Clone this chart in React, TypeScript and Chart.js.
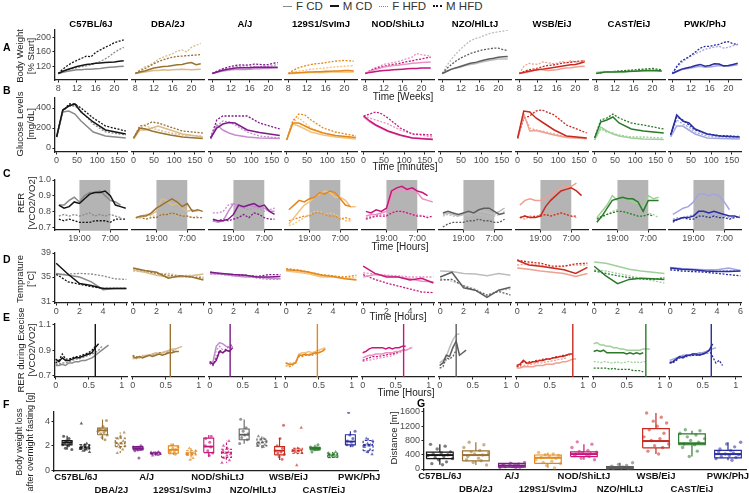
import React, { useEffect, useRef } from 'react';
import { Chart, registerables } from 'chart.js';

Chart.register(...registerables);

const FONT = '"Liberation Sans", Arial, Helvetica, sans-serif';
const AXIS = '#1f1f1f';
const TICK_TXT = '#4d4d4d';

const STRAINS = ['C57BL/6J', 'DBA/2J', 'A/J', '129S1/SvImJ', 'NOD/ShiLtJ', 'NZO/HlLtJ', 'WSB/EiJ', 'CAST/EiJ', 'PWK/PhJ'];
const MALE_COLORS = ['#151515', '#9a7232', '#7d1c87', '#e3891c', '#c8177a', '#5e5e5e', '#c92a1f', '#2a7a2a', '#2a2e9e'];
const FEMALE_COLORS = ['#8a8a8a', '#d8bc8c', '#c48dce', '#f3c27e', '#ec92c3', '#bdbdbd', '#eea091', '#9fd09a', '#a2a6de'];

// ---------- A: body weight (% start) ----------
const weightWeeks = [8, 9, 10, 11, 12, 13, 14, 15, 16, 17, 18, 19, 20, 21, 22];
const weightFCD = [
  [100, 103, 106, 108, 110, 110, 112, 112, 113, 114, 116, 117, 118, 119, 120],
  [100, 102, 104, 106, 108, 108, 110, 109, 110, 111, 112, 111, 110, 111, 112],
  [100, 103, 106, 108, 110, 111, 112, 111, 112, 113, 113, 114, 114, 115, 115],
  [100, 100, 101, 102, 102, 103, 103, 103, 103, 104, 104, 104, 104, 104, 104],
  [100, 106, 110, 114, 118, 120, 122, 123, 125, 126, 128, 129, 130, 131, 132],
  [100, 106, 112, 115, 118, 122, 125, 127, 130, 133, 136, 138, 140, 140, 140],
  [100, 102, 104, 108, 112, 110, 108, 109, 110, 113, 115, 116, 118, 119, 120],
  [102, 104, 105, 105, 105, 104, 104, 105, 106, 106, 106, 107, 107, 106, 106],
  [100, 105, 110, 113, 115, 118, 120, 117, 118, 120, 122, 121, 120, 122, 124],
];
const weightMCD = [
  [100, 106, 111, 115, 119, 122, 125, 126, 128, 129, 130, 131, 132, 134, 135],
  [100, 104, 107, 111, 115, 117, 119, 120, 122, 124, 125, 128, 130, 124, 127],
  [100, 104, 108, 111, 113, 115, 116, 116, 116, 117, 117, 117, 117, 117, 117],
  [100, 101, 102, 103, 104, 104, 105, 105, 106, 106, 107, 107, 108, 108, 107],
  [100, 103, 105, 107, 108, 109, 110, 111, 112, 113, 114, 114, 115, 115, 115],
  [100, 106, 112, 116, 120, 124, 128, 130, 134, 137, 140, 142, 145, 146, 147],
  [100, 103, 106, 108, 110, 112, 114, 116, 118, 120, 122, 124, 125, 128, 132],
  [100, 102, 104, 104, 104, 105, 105, 106, 106, 107, 108, 108, 108, 108, 107],
  [100, 106, 112, 115, 118, 122, 125, 120, 122, 127, 126, 121, 122, 125, 128],
];
const weightFHFD = [
  [100, 105, 110, 113, 116, 119, 121, 124, 128, 133, 140, 148, 158, 166, 172],
  [100, 110, 118, 122, 130, 140, 145, 150, 155, 162, 165, 160, 172, 178, 183],
  [100, 106, 110, 113, 116, 118, 120, 121, 120, 118, 118, 120, 120, 122, 125],
  [100, 103, 106, 108, 110, 112, 113, 114, 115, 117, 118, 119, 120, 121, 122],
  [100, 108, 115, 120, 125, 128, 130, 133, 137, 141, 145, 155, 152, 150, 148],
  [100, 122, 140, 155, 168, 180, 190, 196, 200, 205, 210, 213, 215, 217, 220],
  [100, 120, 128, 126, 125, 132, 130, 127, 128, 133, 130, 135, 132, 130, 137],
  [103, 105, 106, 105, 105, 106, 106, 107, 108, 108, 109, 111, 110, 109, 108],
  [100, 118, 130, 140, 148, 155, 160, 167, 170, 173, 175, 170, 172, 177, 180],
];
const weightMHFD = [
  [100, 112, 122, 130, 136, 142, 148, 146, 158, 165, 172, 178, 185, 189, 193],
  [100, 107, 113, 120, 127, 133, 138, 142, 145, 147, 148, 149, 150, 151, 152],
  [100, 106, 112, 116, 120, 122, 124, 123, 124, 126, 125, 124, 125, 128, 130],
  [100, 108, 115, 119, 122, 125, 127, 128, 130, 132, 134, 135, 136, 135, 134],
  [100, 107, 113, 117, 120, 123, 125, 127, 130, 133, 135, 138, 140, 143, 145],
  [100, 114, 125, 135, 143, 149, 155, 159, 163, 166, 168, 170, 170, 166, 163],
  [100, 105, 110, 112, 115, 119, 122, 123, 125, 128, 130, 131, 133, 134, 135],
  [100, 102, 104, 105, 106, 107, 108, 109, 110, 111, 112, 113, 114, 112, 110],
  [100, 120, 135, 142, 150, 160, 170, 175, 175, 178, 180, 186, 188, 182, 180],
];

// ---------- B: glucose tolerance ----------
const gttMinutes = [0, 15, 30, 45, 60, 90, 120, 170];
const glucoseFCD = [
  [110, 360, 370, 340, 270, 160, 120, 100],
  [90, 180, 180, 200, 220, 180, 140, 110],
  [90, 230, 180, 150, 130, 110, 100, 95],
  [80, 240, 220, 190, 160, 130, 110, 90],
  [310, 260, 225, 195, 165, 125, 100, 90],
  [],
  [90, 340, 170, 175, 160, 130, 105, 95],
  [80, 210, 170, 140, 120, 100, 90, 85],
  [110, 220, 220, 180, 140, 100, 95, 90],
];
const glucoseMCD = [
  [110, 380, 420, 440, 360, 260, 180, 140],
  [100, 200, 190, 170, 155, 130, 110, 95],
  [100, 200, 240, 255, 250, 180, 155, 125],
  [80, 250, 250, 220, 190, 150, 125, 105],
  [320, 270, 230, 200, 170, 130, 100, 85],
  [],
  [100, 370, 360, 300, 260, 180, 120, 100],
  [100, 260, 280, 310, 250, 190, 170, 150],
  [130, 330, 270, 250, 190, 140, 120, 110],
];
const glucoseFHFD = [
  [110, 380, 420, 420, 370, 240, 160, 130],
  [90, 200, 220, 200, 180, 150, 130, 120],
  [90, 220, 270, 260, 230, 160, 120, 100],
  [80, 260, 300, 250, 200, 150, 120, 100],
  [320, 300, 280, 260, 240, 180, 140, 110],
  [],
  [90, 330, 200, 180, 170, 140, 110, 90],
  [80, 190, 160, 150, 130, 110, 110, 100],
  [120, 280, 240, 210, 160, 120, 110, 100],
];
const glucoseMHFD = [
  [120, 360, 440, 440, 400, 300, 220, 170],
  [100, 220, 230, 260, 250, 210, 170, 150],
  [100, 280, 320, 320, 320, 320, 250, 190],
  [80, 270, 340, 330, 280, 200, 160, 120],
  [320, 340, 360, 340, 300, 200, 140, 130],
  [],
  [100, 300, 320, 370, 380, 330, 230, 150],
  [100, 280, 300, 340, 300, 250, 230, 190],
  [130, 310, 280, 230, 180, 140, 125, 115],
];

// ---------- C: RER over the day (hours from 19:00) ----------
const rerHours = [-8, -6, -4, -2, 0, 2, 4, 6, 8, 10, 12, 14, 16, 18];
const NIGHT = [0, 12];
const rerFCD = [
  [0.84, 0.84, 0.87, 0.89, 0.86, 0.90, 0.92, 0.92, 0.93, 0.90, 0.87, 0.86, 0.84],
  [0.76, 0.76, 0.78, 0.78, 0.80, 0.88, 0.87, 0.84, 0.85, 0.82, 0.80, 0.81, 0.80],
  [0.74, 0.73, 0.74, 0.80, 0.85, 0.84, 0.82, 0.84, 0.83, 0.83, 0.82, 0.80, 0.80],
  [0.72, 0.76, 0.80, 0.84, 0.86, 0.89, 0.91, 0.93, 0.92, 0.89, 0.89, 0.87, 0.83, 0.83],
  [0.77, 0.78, 0.78, 0.79, 0.80, 0.90, 0.93, 0.93, 0.93, 0.93, 0.92, 0.88, 0.87, 0.86],
  [0.78, 0.79, 0.78, 0.77, 0.78, 0.79, 0.79, 0.80, 0.80, 0.79, 0.78, 0.80, 0.82],
  [0.84, 0.87, 0.88, 0.87, 0.87, 0.89, 0.90, 0.93, 0.95, 0.96, 0.96, 0.98],
  [0.76, 0.80, 0.84, 0.90, 0.87, 0.89, 0.88, 0.86, 0.85, 0.82, 0.90, 0.88, 0.89],
  [0.78, 0.80, 0.82, 0.83, 0.86, 0.91, 0.91, 0.90, 0.91, 0.90, 0.86, 0.81],
];
const rerMCD = [
  [0.84, 0.82, 0.83, 0.86, 0.85, 0.88, 0.91, 0.92, 0.92, 0.93, 0.90, 0.84, 0.83, 0.82],
  [0.76, 0.77, 0.77, 0.79, 0.82, 0.84, 0.86, 0.88, 0.86, 0.83, 0.85, 0.80, 0.81, 0.80],
  [0.75, 0.74, 0.74, 0.75, 0.78, 0.84, 0.83, 0.84, 0.85, 0.83, 0.84, 0.80, 0.78],
  [0.81, 0.84, 0.87, 0.86, 0.88, 0.89, 0.92, 0.91, 0.93, 0.92, 0.88, 0.84, 0.83],
  [0.80, 0.79, 0.81, 0.80, 0.82, 0.93, 0.95, 0.96, 0.94, 0.95, 0.93, 0.92, 0.90],
  [0.79, 0.80, 0.79, 0.78, 0.79, 0.80, 0.79, 0.81, 0.82, 0.82, 0.80, 0.78, 0.79],
  [0.76, 0.77, 0.76, 0.76, 0.77, 0.83, 0.87, 0.90, 0.93, 0.94, 0.95, 0.93, 0.90],
  [0.73, 0.77, 0.82, 0.87, 0.88, 0.89, 0.88, 0.88, 0.86, 0.80, 0.87, 0.87, 0.87],
  [0.74, 0.75, 0.76, 0.76, 0.77, 0.80, 0.80, 0.79, 0.80, 0.79, 0.78, 0.77, 0.77, 0.76],
];
const rerFHFD = [
  [0.77, 0.78, 0.77, 0.78, 0.77, 0.78, 0.79, 0.77, 0.78, 0.77, 0.78, 0.77, 0.76],
  [0.76, 0.77, 0.78, 0.77, 0.77, 0.78, 0.79, 0.79, 0.77, 0.78, 0.77, 0.76, 0.77],
  [0.79, 0.79, 0.80, 0.84, 0.85, 0.83, 0.82, 0.81, 0.82, 0.82, 0.80, 0.81, 0.82],
  [0.71, 0.72, 0.74, 0.76, 0.78, 0.80, 0.80, 0.78, 0.79, 0.78, 0.76, 0.74, 0.74],
  [0.76, 0.77, 0.77, 0.78, 0.78, 0.79, 0.81, 0.80, 0.79, 0.78, 0.78, 0.77, 0.77],
  [0.77, 0.78, 0.77, 0.77, 0.78, 0.77, 0.78, 0.78, 0.77, 0.76, 0.77, 0.78, 0.80],
  [0.76, 0.75, 0.77, 0.76, 0.78, 0.78, 0.79, 0.78, 0.80, 0.79, 0.77, 0.76],
  [0.76, 0.76, 0.78, 0.80, 0.81, 0.80, 0.79, 0.78, 0.77, 0.78, 0.79, 0.78, 0.76],
  [0.75, 0.76, 0.76, 0.77, 0.78, 0.79, 0.79, 0.78, 0.78, 0.77, 0.77, 0.76, 0.76],
];
const rerMHFD = [
  [0.75, 0.74, 0.75, 0.74, 0.73, 0.73, 0.73, 0.74, 0.74, 0.74, 0.73, 0.75, 0.75, 0.75],
  [0.76, 0.76, 0.75, 0.76, 0.76, 0.78, 0.78, 0.79, 0.78, 0.77, 0.77, 0.76, 0.76, 0.76],
  [0.74, 0.74, 0.75, 0.74, 0.75, 0.76, 0.78, 0.76, 0.79, 0.78, 0.76, 0.75, 0.75],
  [0.74, 0.75, 0.76, 0.77, 0.77, 0.79, 0.79, 0.78, 0.77, 0.77, 0.75, 0.76, 0.75],
  [0.75, 0.76, 0.77, 0.77, 0.77, 0.79, 0.80, 0.80, 0.79, 0.78, 0.77, 0.77, 0.76, 0.77],
  [0.70, 0.72, 0.73, 0.73, 0.73, 0.74, 0.74, 0.75, 0.74, 0.74, 0.73, 0.73, 0.75],
  [0.76, 0.77, 0.76, 0.77, 0.77, 0.78, 0.77, 0.78, 0.79, 0.78, 0.77, 0.77],
  [0.75, 0.77, 0.78, 0.79, 0.80, 0.80, 0.79, 0.78, 0.77, 0.77, 0.78, 0.77],
  [0.73, 0.75, 0.76, 0.75, 0.75, 0.77, 0.77, 0.76, 0.77, 0.76, 0.76, 0.75, 0.76, 0.77],
];

// ---------- D: temperature during fasting ----------
const tempHours = [0, 1, 2, 3, 4, 5, 6];
const tempFCD = [
  [35.6, 35.3, 35.0, 34.2, 32.9, 33.1, 33.1],
  [36.2, 35.8, 35.3, 35.0, 35.0, 35.2, 35.5],
  [35.6, 35.5, 35.2, 35.0, 35.0, 34.8, 34.7],
  [36.0, 35.8, 35.5, 35.0, 35.0, 34.8, 34.6],
  [35.0, 35.4, 35.2, 35.0, 34.7, 34.3, 34.2],
  [36.0, 35.9, 35.6, 35.5, 35.2, 35.6, 35.3],
  [36.5, 36.3, 36.0, 35.8, 35.6, 35.1, 35.6],
  [37.5, 37.3, 36.8, 36.3, 36.0, 35.8, 35.6],
  [36.6, 36.4, 36.3, 36.2, 36.2, 36.5, 36.1],
];
const tempMCD = [
  [37.3, 35.5, 33.9, 33.6, 33.1, 33.1, 33.1],
  [36.5, 36.1, 35.8, 34.8, 35.2, 35.0, 34.5],
  [35.8, 35.6, 35.4, 35.3, 35.0, 35.0, 35.1],
  [36.2, 36.1, 35.8, 35.3, 35.1, 34.7, 34.5],
  [36.8, 35.6, 35.0, 35.0, 34.5, 34.8, 34.0],
  [35.0, 35.8, 33.2, 32.8, 31.6, 32.8, 33.3],
  [37.8, 37.0, 36.8, 36.5, 36.2, 35.6, 36.6],
  [36.8, 35.2, 33.9, 34.6, 34.8, 34.7, 34.6],
  [36.5, 36.3, 36.2, 36.0, 35.9, 35.9, 36.0],
];
const tempFHFD = [
  [35.3, 35.5, 35.6, 35.5, 35.2, 34.7, 34.6],
  [36.0, 35.8, 35.5, 35.6, 35.2, 35.3, 35.0],
  [35.5, 35.4, 35.2, 35.2, 34.8, 34.6, 34.6],
  [36.3, 36.0, 35.6, 35.3, 35.1, 34.9, 35.0],
  [35.7, 35.5, 35.3, 35.2, 35.0, 35.0, 35.0],
  [34.8, 34.3, 33.6, 33.0, 31.8, 32.8, 33.0],
  [37.0, 37.2, 37.0, 36.6, 36.8, 37.0, 37.0],
  [36.2, 36.0, 35.6, 35.2, 34.8, 34.4, 34.0],
  [36.4, 36.2, 36.2, 36.0, 36.0, 36.1, 36.0],
];
const tempMHFD = [
  [35.5, 34.2, 33.8, 33.4, 33.1, 33.1, 33.1],
  [36.4, 36.0, 35.6, 35.3, 35.1, 35.0, 34.8],
  [35.8, 35.5, 35.4, 35.3, 35.1, 35.4, 35.4],
  [36.4, 36.2, 35.8, 35.4, 35.2, 35.0, 35.3],
  [35.4, 34.6, 34.0, 33.5, 33.0, 32.5, 32.4],
  [34.5, 34.6, 33.5, 32.8, 32.0, 32.6, 32.0],
  [37.8, 37.5, 37.3, 36.8, 36.8, 37.2, 37.3],
  [36.0, 35.6, 35.2, 34.9, 34.7, 34.6, 34.9],
  [36.2, 36.0, 35.9, 35.8, 35.6, 35.4, 35.2],
];

// ---------- E: RER during exercise ----------
const exTimes = [0, 0.05, 0.1, 0.15, 0.2, 0.25, 0.3, 0.35, 0.4, 0.45, 0.5, 0.55, 0.6, 0.65, 0.7, 0.75, 0.8, 0.85, 0.9];
const exerciseEnd = [0.6, 0.57, 0.31, 0.48, 0.62, 0.25, 0.85, 0.79, 0.63];
const exFCD = [
  [0.78, 0.78, 0.79, 0.78, 0.80, 0.80, 0.81, 0.81, 0.82, 0.82, 0.83, 0.84, 0.86, 0.88, 0.90, 0.92, 0.94],
  [0.83, 0.84, 0.84, 0.85, 0.86, 0.86, 0.87, 0.88, 0.87, 0.88, 0.89, 0.90, 0.91, 0.91, 0.92, 0.93],
  [0.80, 0.81, 0.93, 0.96, 0.95, 0.93, 0.92, 0.93],
  [0.78, 0.78, 0.79, 0.80, 0.87, 0.88, 0.88, 0.89, 0.88, 0.89, 0.90, 0.91, 0.92],
  [0.84, 0.85, 0.86, 0.86, 0.87, 0.87, 0.87, 0.88, 0.88, 0.88, 0.89, 0.89, 0.90, 0.90, 0.91, 0.92],
  [0.80, 0.82, 0.85, 0.92, 0.98, 1.02, 1.03],
  [0.76, 0.76, 0.77, 0.77, 0.77, 0.77, 0.78, 0.78, 0.78, 0.79, 0.79, 0.79, 0.80, 0.80, 0.81, 0.81, 0.82, 0.83, 0.83],
  [0.95, 0.96, 0.94, 0.94, 0.93, 0.93, 0.92, 0.92, 0.91, 0.91, 0.90, 0.90, 0.90, 0.90, 0.90, 0.91, 0.91, 0.91],
  [0.82, 0.83, 0.84, 0.85, 0.86, 0.86, 0.86, 0.87, 0.87, 0.88, 0.88, 0.89, 0.90, 0.91, 0.92],
];
const exMCD = [
  [0.83, 0.81, 0.84, 0.82, 0.82, 0.83, 0.84, 0.84, 0.85, 0.86, 0.87, 0.88, 0.92, 0.95],
  [0.85, 0.84, 0.85, 0.84, 0.85, 0.86, 0.85, 0.86, 0.87, 0.86, 0.87, 0.88, 0.88, 0.89, 0.89],
  [0.81, 0.79, 0.82, 0.89, 0.88, 0.90, 0.89, 0.92],
  [0.80, 0.79, 0.79, 0.80, 0.86, 0.86, 0.87, 0.86, 0.87, 0.88, 0.88, 0.89, 0.91],
  [0.88, 0.89, 0.91, 0.92, 0.92, 0.92, 0.92, 0.91, 0.92, 0.91, 0.92, 0.92, 0.93, 0.93],
  [0.78, 0.80, 0.86, 0.85, 0.92, 0.97, 0.86, 0.88, 0.90],
  [0.78, 0.79, 0.82, 0.80, 0.80, 0.81, 0.81, 0.82, 0.82, 0.83, 0.83, 0.84, 0.84, 0.85, 0.85, 0.86, 0.87, 0.87],
  [0.89, 0.90, 0.89, 0.90, 0.88, 0.88, 0.88, 0.88, 0.88, 0.88, 0.87, 0.88, 0.87, 0.88, 0.87, 0.88],
  [0.80, 0.81, 0.83, 0.85, 0.84, 0.86, 0.86, 0.87, 0.87, 0.86, 0.87, 0.88, 0.90, 0.95],
];
const exFHFD = [
  [0.79, 0.79, 0.80, 0.80, 0.81, 0.82, 0.83, 0.83, 0.84, 0.85, 0.86, 0.87, 0.88, 0.90, 0.93],
  [0.84, 0.83, 0.85, 0.86, 0.85, 0.86, 0.86, 0.87, 0.88, 0.88, 0.87, 0.89, 0.90, 0.91, 0.92],
  [0.81, 0.80, 0.90, 0.93, 0.90, 0.89, 0.90],
  [0.80, 0.80, 0.80, 0.81, 0.86, 0.87, 0.86, 0.87, 0.88, 0.88, 0.88, 0.89, 0.90],
  [0.81, 0.82, 0.82, 0.83, 0.83, 0.84, 0.84, 0.85, 0.85, 0.86, 0.87, 0.88, 0.89, 0.90, 0.91, 0.93],
  [0.78, 0.80, 0.82, 0.83],
  [0.77, 0.77, 0.78, 0.78, 0.79, 0.79, 0.80, 0.80, 0.80, 0.81, 0.81, 0.82, 0.82, 0.83, 0.83, 0.84],
  [0.81, 0.81, 0.80, 0.81, 0.81, 0.80, 0.80, 0.81, 0.80, 0.80, 0.81, 0.81, 0.80, 0.81, 0.80, 0.81, 0.81],
  [0.81, 0.82, 0.83, 0.84, 0.84, 0.85, 0.85, 0.86, 0.86, 0.86, 0.87, 0.87, 0.88, 0.89],
];
const exMHFD = [
  [0.80, 0.82, 0.87, 0.83, 0.83, 0.84, 0.85, 0.85, 0.86, 0.87, 0.88, 0.90, 0.93],
  [0.86, 0.85, 0.84, 0.85, 0.85, 0.86, 0.87, 0.87, 0.88, 0.88, 0.89, 0.88, 0.89, 0.90],
  [0.80, 0.78, 0.84, 0.90, 0.88, 0.91, 0.93, 0.95],
  [0.78, 0.77, 0.78, 0.80, 0.85, 0.85, 0.86, 0.86, 0.86, 0.87, 0.88, 0.89],
  [0.82, 0.83, 0.84, 0.85, 0.85, 0.85, 0.86, 0.86, 0.87, 0.87, 0.88, 0.89, 0.90, 0.91],
  [0.76, 0.77, 0.84, 0.83, 0.85, 0.90],
  [0.77, 0.78, 0.81, 0.80, 0.81, 0.81, 0.82, 0.82, 0.83, 0.83, 0.83, 0.84, 0.85, 0.85, 0.86, 0.86, 0.86],
  [0.76, 0.76, 0.76, 0.76, 0.76, 0.75, 0.76, 0.75, 0.75, 0.75, 0.75, 0.75, 0.74, 0.74, 0.74, 0.73],
  [0.80, 0.80, 0.82, 0.84, 0.85, 0.85, 0.86, 0.86, 0.86, 0.87, 0.87, 0.88, 0.90, 0.85, 0.80, 0.82, 0.78],
];

// ---------- F: body weight loss after fasting [g] ----------
// stats: [q1, median, q3, whiskerLow, whiskerHigh]
const fastLossFemaleStats = [
  [2.08, 2.28, 2.44, 1.67, 2.83], [2.92, 3.28, 3.47, 2.5, 4.17], [1.67, 1.8, 1.94, 1.53, 2.0],
  [1.39, 1.67, 2.0, 1.25, 2.2], [1.44, 1.94, 2.64, 1.1, 2.9], [2.5, 2.92, 3.39, 2.17, 4.17],
  [1.25, 1.6, 1.94, 0.83, 2.64], [1.67, 1.8, 1.89, 1.55, 2.1], [2.08, 2.36, 2.92, 1.89, 3.2],
];
const fastLossMaleStats = [
  [1.75, 1.89, 2.08, 1.5, 2.2], [1.94, 2.22, 2.64, 1.4, 3.1], [1.3, 1.39, 1.47, 1.2, 1.53],
  [1.25, 1.39, 1.6, 0.83, 1.8], [1.05, 1.44, 1.72, 0.6, 2.44], [2.0, 2.28, 2.56, 1.8, 2.78],
  [1.39, 1.6, 1.8, 1.3, 1.85], [1.05, 1.25, 1.39, 1.0, 1.5], [1.6, 2.08, 2.44, 1.25, 2.64],
];
const fastLossFemalePoints = [
  [2.8, 2.6, 2.4, 2.35, 2.3, 2.25, 2.2, 2.1, 2.0, 1.8, 1.7],
  [4.1, 3.6, 3.4, 3.3, 3.2, 3.1, 3.0, 2.9, 2.7, 2.5],
  [2.0, 1.9, 1.85, 1.8, 1.78, 1.75, 1.7, 1.6, 1.0],
  [2.1, 1.9, 1.8, 1.7, 1.6, 1.5, 1.4, 1.3],
  [2.8, 2.6, 2.3, 2.0, 1.9, 1.6, 1.4, 1.2],
  [4.2, 3.5, 3.2, 3.0, 2.9, 2.7, 2.5, 2.2],
  [3.7, 2.6, 2.0, 1.8, 1.6, 1.5, 1.4, 1.3, 1.1, 0.9],
  [2.1, 1.9, 1.85, 1.8, 1.8, 1.75, 1.7, 1.5],
  [4.75, 3.2, 2.9, 2.6, 2.4, 2.3, 2.1, 2.0],
];
const fastLossMalePoints = [
  [3.85, 2.2, 2.0, 1.95, 1.9, 1.85, 1.8, 1.75, 1.7, 1.6, 1.5],
  [3.1, 2.8, 2.6, 2.4, 2.3, 2.2, 2.1, 2.0, 1.9, 1.7, 1.4],
  [1.5, 1.45, 1.4, 1.38, 1.35, 1.3, 1.25, 1.2],
  [1.8, 1.6, 1.5, 1.4, 1.35, 1.3, 1.25, 1.0, 0.85],
  [2.4, 2.0, 1.8, 1.6, 1.5, 1.4, 1.3, 1.2, 1.0, 0.8, 0.6],
  [2.8, 2.6, 2.5, 2.4, 2.3, 2.2, 2.1, 2.0, 1.9],
  [3.5, 1.8, 1.7, 1.65, 1.6, 1.55, 1.5, 1.4, 0.4],
  [1.5, 1.4, 1.3, 1.25, 1.2, 1.15, 1.1, 1.05],
  [2.6, 2.4, 2.2, 2.1, 2.05, 2.0, 1.9, 1.7, 1.5, 1.3],
];

// ---------- G: running distance [m] ----------
const distanceStats = [
  [290, 390, 470, 120, 690], [226, 390, 505, 113, 750], [52, 96, 157, 26, 183],
  [157, 313, 392, 26, 461], [348, 418, 479, 261, 696], [9, 35, 70, 0, 174],
  [592, 783, 1131, 418, 1570], [679, 720, 983, 348, 1070], [313, 418, 522, 244, 748],
];
const distancePoints = [
  [690, 640, 560, 480, 450, 420, 400, 380, 350, 320, 290, 260, 200, 150, 120],
  [750, 680, 600, 520, 480, 450, 420, 390, 350, 300, 260, 230, 180, 113],
  [183, 160, 140, 120, 110, 100, 95, 90, 80, 70, 60, 50, 40, 26],
  [461, 420, 400, 380, 350, 320, 300, 260, 220, 180, 150, 100, 26],
  [760, 696, 600, 520, 490, 470, 450, 430, 420, 400, 380, 350, 300, 261],
  [174, 130, 100, 80, 60, 50, 40, 35, 30, 20, 10, 5, 0],
  [1570, 1450, 1340, 1290, 1200, 1100, 1000, 900, 850, 800, 700, 650, 600, 500, 418],
  [1100, 1070, 1000, 950, 900, 850, 800, 750, 700, 680, 600, 500, 348],
  [748, 700, 620, 560, 520, 480, 450, 420, 400, 380, 350, 320, 290, 244],
];
const JITTER = [-0.7, 0.4, -0.2, 0.8, 0.1, -0.5, 0.6, -0.9, 0.3, -0.35, 0.95, -0.1, 0.5, -0.6, 0.2];

// ---------- layout ----------
const AREA_W = 72;
const colLeft = (i: number) => Math.round(55 + 76.8 * i);

const fmtInt = (v: number) => String(v);
const fmt1 = (v: number) => v.toFixed(1);

const ROWS: any[] = [
  { id: 'A', top: 30, bottom: 80, xs: weightWeeks, series: [weightFCD, weightMCD, weightFHFD, weightMHFD],
    xMin: 7.3, xMax: 22.7, yMin: 82, yMax: 220, xTicks: [8, 12, 16, 20], xFmt: fmtInt, yTicks: [120, 160, 200], yFmt: fmtInt },
  { id: 'B', top: 98, bottom: 152, xs: gttMinutes, series: [glucoseFCD, glucoseMCD, glucoseFHFD, glucoseMHFD],
    xMin: -4, xMax: 173, yMin: -40, yMax: 500, xTicks: [0, 50, 100, 150], xFmt: fmtInt, yTicks: [0, 200, 400], yFmt: fmtInt },
  { id: 'C', top: 180, bottom: 230, xs: rerHours, series: [rerFCD, rerMCD, rerFHFD, rerMHFD],
    xMin: -9.5, xMax: 18.5, yMin: 0.681, yMax: 1.0, xTicks: NIGHT, xFmt: (v: number) => (v === NIGHT[0] ? '19:00' : '7:00'),
    yTicks: [0.7, 0.8, 0.9, 1.0], yFmt: fmt1, band: true },
  { id: 'D', top: 253, bottom: 303, xs: tempHours, series: [tempFCD, tempMCD, tempFHFD, tempMHFD],
    xMin: -0.1, xMax: 6.05, yMin: 30.67, yMax: 39, xTicks: [0, 1, 2, 3, 4, 5, 6],
    xFmt: (v: number, col: number) => (v % 2 === 0 && (v < 6 || col === 8) ? String(v) : ''), yTicks: [31, 35, 39], yFmt: fmtInt },
  { id: 'E', top: 324, bottom: 377, xs: exTimes, series: [exFCD, exMCD, exFHFD, exMHFD],
    xMin: -0.01, xMax: 1.08, yMin: 0.69, yMax: 1.105, xTicks: [0, 0.5, 1], xFmt: (v: number) => String(v),
    yTicks: [0.7, 0.9, 1.1], yFmt: fmt1, markers: exerciseEnd },
];

const nightBand = {
  id: 'nightBand',
  beforeDatasetsDraw(chart: any, _a: any, opts: any) {
    if (!opts || !opts.on) return;
    const { ctx, chartArea, scales } = chart;
    const x0 = scales.x.getPixelForValue(NIGHT[0]);
    const x1 = scales.x.getPixelForValue(NIGHT[1]);
    ctx.save();
    ctx.fillStyle = '#b4b4b4';
    ctx.fillRect(x0, chartArea.top, x1 - x0, chartArea.bottom - chartArea.top);
    ctx.restore();
  },
};

function xAxisOpts(min: number, max: number, ticks: number[], fmt: (v: number) => any, padB: number, showLabels = true) {
  return {
    type: 'linear', min, max,
    afterBuildTicks: (ax: any) => { ax.ticks = ticks.map((v) => ({ value: v })); },
    afterFit: (ax: any) => { ax.height = padB; ax.paddingLeft = 0; ax.paddingRight = 0; },
    border: { display: true, color: AXIS, width: 1.3 },
    grid: { display: showLabels, drawOnChartArea: false, drawTicks: true, tickLength: 2.5, color: AXIS, lineWidth: 1 },
    ticks: { display: showLabels, autoSkip: false, maxRotation: 0, minRotation: 0, padding: 1, color: TICK_TXT,
      font: { family: FONT, size: 9 }, callback: (v: any) => fmt(Number(v)) },
  };
}

function yAxisOpts(show: boolean, min: number, max: number, ticks: number[], fmt: (v: number) => string, yW: number) {
  return {
    display: show, type: 'linear', min, max,
    afterBuildTicks: (ax: any) => { ax.ticks = ticks.map((v) => ({ value: v })); },
    afterFit: (ax: any) => { ax.width = show ? yW : 0; ax.paddingTop = 0; ax.paddingBottom = 0; },
    border: { display: true, color: AXIS, width: 1.3 },
    grid: { display: true, drawOnChartArea: false, drawTicks: true, tickLength: 2.5, color: AXIS, lineWidth: 1 },
    ticks: { autoSkip: false, padding: 1.5, color: TICK_TXT, font: { family: FONT, size: 9 }, callback: (v: any) => fmt(Number(v)) },
  };
}

const Y_W = 30;
function linePanelGeometry(row: any, col: number) {
  const showY = col === 0;
  const padL = showY ? 34 : 6, padR = 8, padT = 4, padB = 18;
  const areaH = row.bottom - row.top;
  return {
    showY, padL, padR, padT, padB,
    left: colLeft(col) - padL, top: row.top - padT,
    width: AREA_W + padL + padR, height: areaH + padT + padB,
  };
}

function buildLineConfig(row: any, col: number) {
  const g = linePanelGeometry(row, col);
  const datasets: any[] = [];
  if (row.markers) {
    const xe = row.markers[col];
    datasets.push({ data: [{ x: xe, y: row.yMin }, { x: xe, y: row.yMax }], borderColor: MALE_COLORS[col], borderWidth: 1.4, pointRadius: 0 });
  }
  for (const s of [1, 0, 3, 2]) {
    const vals = row.series[s][col] || [];
    const pts: any[] = [];
    vals.forEach((v: any, k: number) => { if (v !== null && v !== undefined) pts.push({ x: row.xs[k], y: v }); });
    datasets.push({
      data: pts,
      borderColor: s % 2 === 1 ? MALE_COLORS[col] : FEMALE_COLORS[col],
      borderWidth: s < 2 ? 1.5 : 1.3,
      borderDash: s >= 2 ? [2, 1.5] : [],
      pointRadius: 0, tension: 0, fill: false,
    });
  }
  return {
    type: 'line',
    data: { datasets },
    plugins: [nightBand],
    options: {
      responsive: false, animation: false, devicePixelRatio: 1,
      layout: { autoPadding: false, padding: { left: g.showY ? g.padL - Y_W : g.padL, right: g.padR, top: g.padT, bottom: 0 } },
      plugins: { legend: { display: false }, tooltip: { enabled: false }, nightBand: { on: !!row.band } },
      scales: {
        x: xAxisOpts(row.xMin, row.xMax, row.xTicks, (v: number) => row.xFmt(v, col), g.padB),
        y: yAxisOpts(g.showY, row.yMin, row.yMax, row.yTicks, row.yFmt, Y_W),
      },
    },
  };
}

function boxOutline(cx: number, hw: number, st: number[]) {
  const [q1, , q3, lo, hi] = st;
  return [
    { x: cx - hw, y: q1 }, { x: cx + hw, y: q1 }, { x: cx + hw, y: q3 }, { x: cx - hw, y: q3 }, { x: cx - hw, y: q1 },
    { x: cx, y: null },
    { x: cx, y: q3 }, { x: cx, y: hi },
    { x: cx, y: null },
    { x: cx, y: q1 }, { x: cx, y: lo },
  ];
}
function medianLine(cx: number, hw: number, st: number[]) {
  return [{ x: cx - hw, y: st[1] }, { x: cx + hw, y: st[1] }];
}
function withAlpha(hex: string, a: number) {
  const n = parseInt(hex.slice(1), 16);
  return `rgba(${(n >> 16) & 255},${(n >> 8) & 255},${n & 255},${a})`;
}

const F_GEOM = { areaL: 54, areaT: 412, areaR: 378, areaB: 471, padL: 22, yW: 18, padR: 8, padT: 4, padB: 4, xMin: -0.62, xMax: 8.53 };
const G_GEOM = { areaL: 424, areaT: 409, areaR: 746, areaB: 470, padL: 28, yW: 24, padR: 3, padT: 4, padB: 4, xMin: -0.44, xMax: 8.5 };

function boxChartOptions(g: any, yMin: number, yMax: number, yTicks: number[]) {
  return {
    responsive: false, animation: false, devicePixelRatio: 1,
    layout: { autoPadding: false, padding: { left: g.padL - g.yW, right: g.padR, top: g.padT, bottom: 0 } },
    plugins: { legend: { display: false }, tooltip: { enabled: false } },
    scales: {
      x: xAxisOpts(g.xMin, g.xMax, STRAINS.map((_, i) => i), () => '', g.padB, false),
      y: yAxisOpts(true, yMin, yMax, yTicks, fmtInt, g.yW),
    },
  };
}

function buildFastConfig() {
  const datasets: any[] = [];
  const hw = 0.14;
  for (let i = 0; i < STRAINS.length; i++) {
    for (let sx = 0; sx < 2; sx++) {
      const cx = i + (sx === 0 ? -0.25 : 0.25);
      const st = sx === 0 ? fastLossFemaleStats[i] : fastLossMaleStats[i];
      const pts = sx === 0 ? fastLossFemalePoints[i] : fastLossMalePoints[i];
      const col = MALE_COLORS[i];
      const dash = sx === 0 ? [] : [2.5, 1.8];
      datasets.push({ data: boxOutline(cx, hw, st), borderColor: col, borderWidth: 1.1, borderDash: dash, pointRadius: 0, order: 3 });
      datasets.push({ data: medianLine(cx, hw, st), borderColor: col, borderWidth: 1.8, borderDash: dash, pointRadius: 0, order: 3 });
      datasets.push({
        data: pts.map((v, k) => ({ x: cx + JITTER[(k + i * 3) % JITTER.length] * hw, y: v })),
        showLine: false, pointRadius: sx === 0 ? 1.5 : 2, pointStyle: sx === 0 ? 'circle' : 'triangle',
        pointBackgroundColor: withAlpha(col, 0.65), pointBorderWidth: 0, borderColor: 'transparent', order: 1,
      });
    }
  }
  return { type: 'line', data: { datasets }, options: boxChartOptions(F_GEOM, -0.08, 4.8, [0, 2, 4]) };
}

function buildDistanceConfig() {
  const datasets: any[] = [];
  const hw = 0.37;
  for (let i = 0; i < STRAINS.length; i++) {
    const st = distanceStats[i];
    const col = MALE_COLORS[i];
    datasets.push({ data: boxOutline(i, hw, st), borderColor: col, borderWidth: 1.2, pointRadius: 0, order: 3 });
    datasets.push({ data: medianLine(i, hw, st), borderColor: col, borderWidth: 2, pointRadius: 0, order: 3 });
    datasets.push({
      data: distancePoints[i].map((v, k) => ({ x: i + JITTER[(k + i * 5) % JITTER.length] * hw, y: v })),
      showLine: false, pointRadius: 1.7, pointStyle: 'circle',
      pointBackgroundColor: withAlpha(col, 0.55), pointBorderWidth: 0,
      borderColor: 'transparent', order: 1,
    });
  }
  return { type: 'line', data: { datasets }, options: boxChartOptions(G_GEOM, -28, 1680, [0, 400, 800, 1200, 1600]) };
}

function Panel({ left, top, width, height, make }: any) {
  const ref = useRef<HTMLCanvasElement | null>(null);
  useEffect(() => {
    if (!ref.current) return;
    const chart = new Chart(ref.current, make());
    return () => chart.destroy();
  }, []);
  return (
    <canvas ref={ref} width={width} height={height}
      style={{ position: 'absolute', left, top, width, height, display: 'block' }} />
  );
}

function Txt({ x, y, children, style, anchor = 'center' }: any) {
  const tx = anchor === 'left' ? '0' : '-50%';
  return (
    <div style={{
      position: 'absolute', left: x, top: y, whiteSpace: 'nowrap', fontFamily: FONT,
      transform: `translate(${tx},-50%)`, textAlign: 'center', ...style,
    }}>{children}</div>
  );
}

function YTitle({ x, y, lines, size = 9.5 }: any) {
  return (
    <div style={{
      position: 'absolute', left: x, top: y, transform: 'translate(-50%,-50%) rotate(-90deg)',
      whiteSpace: 'nowrap', fontFamily: FONT, fontSize: size, lineHeight: '11px', color: '#222', textAlign: 'center',
    }}>
      {lines.map((l: string, i: number) => <div key={i}>{l}</div>)}
    </div>
  );
}

// strain names under the box plots, alternating on two rows
function StrainLabels({ g }: any) {
  const px = (v: number) => g.areaL + ((v - g.xMin) / (g.xMax - g.xMin)) * (g.areaR - g.areaL);
  return (
    <>
      {STRAINS.map((s, i) => (
        <Txt key={s} x={px(i)} y={g.areaB + (i % 2 === 0 ? 5 : 18)} style={{ fontWeight: 'bold', color: '#111', fontSize: 9.5 }}>{s}</Txt>
      ))}
    </>
  );
}

const LEGEND_ITEMS = [
  { label: 'F CD', color: '#8a8a8a', style: 'solid', w: 1.5 },
  { label: 'M CD', color: '#151515', style: 'solid', w: 2 },
  { label: 'F HFD', color: '#8a8a8a', style: 'dotted', w: 1.5 },
  { label: 'M HFD', color: '#151515', style: 'dotted', w: 2 },
];

export default function App() {
  const panels: any[] = [];
  ROWS.forEach((row) => {
    for (let col = 0; col < 9; col++) {
      const g = linePanelGeometry(row, col);
      panels.push(
        <Panel key={`${row.id}${col}`} left={g.left} top={g.top} width={g.width} height={g.height}
          make={() => buildLineConfig(row, col)} />
      );
    }
  });
  const fg = F_GEOM, gg = G_GEOM;
  const bold = { fontWeight: 'bold', color: '#000' };
  return (
    <div style={{ position: 'absolute', left: 0, top: 0, width: 749, height: 493, overflow: 'hidden', background: '#fff', fontFamily: FONT }}>
      {panels}
      <Panel left={fg.areaL - fg.padL} top={fg.areaT - fg.padT} width={fg.areaR - fg.areaL + fg.padL + fg.padR}
        height={fg.areaB - fg.areaT + fg.padT + fg.padB} make={buildFastConfig} />
      <Panel left={gg.areaL - gg.padL} top={gg.areaT - gg.padT} width={gg.areaR - gg.areaL + gg.padL + gg.padR}
        height={gg.areaB - gg.areaT + gg.padT + gg.padB} make={buildDistanceConfig} />
      <StrainLabels g={fg} />
      <StrainLabels g={gg} />

      {/* legend */}
      <div style={{ position: 'absolute', left: 283, top: 0, height: 12, display: 'flex', alignItems: 'center', fontSize: 11.5, color: '#333', whiteSpace: 'nowrap' }}>
        {LEGEND_ITEMS.map((it) => (
          <React.Fragment key={it.label}>
            <span style={{ display: 'inline-block', width: 9, height: 0, borderTop: `${it.w}px ${it.style} ${it.color}`, marginRight: 4 }} />
            <span style={{ marginRight: 7 }}>{it.label}</span>
          </React.Fragment>
        ))}
      </div>

      {/* strain titles */}
      {STRAINS.map((s, i) => (
        <Txt key={s} x={colLeft(i) + AREA_W / 2} y={23} style={{ ...bold, fontSize: 9.5 }}>{s}</Txt>
      ))}

      {/* panel letters */}
      {[['A', 47], ['B', 90], ['C', 173], ['D', 259], ['E', 317], ['F', 404]].map(([l, y]: any) => (
        <Txt key={l} x={3} y={y} anchor="left" style={{ ...bold, fontSize: 10.5 }}>{l}</Txt>
      ))}
      <Txt x={417} y={403} anchor="left" style={{ ...bold, fontSize: 10.5 }}>G</Txt>

      {/* axis titles */}
      <YTitle x={25} y={56} lines={['Body Weight', '[% Start]']} />
      <YTitle x={25} y={124} lines={['Glucose Levels', '[mg/dL]']} />
      <YTitle x={26} y={203} lines={['RER', '[VCO2/VO2]']} />
      <YTitle x={25} y={279} lines={['Temprature', '[°C]']} />
      <YTitle x={26} y={350} lines={['RER during Execise', '[VCO2/VO2]']} />
      <YTitle x={25} y={442} lines={['Body weight loss', 'after overnight fasting [g]']} size={9} />
      <YTitle x={393} y={438} lines={['Distance [m]']} />

      <Txt x={403} y={96} style={{ fontSize: 10, color: '#222' }}>Time [Weeks]</Txt>
      <Txt x={405} y={166} style={{ fontSize: 10, color: '#222' }}>Time [minutes]</Txt>
      <Txt x={400} y={246} style={{ fontSize: 10, color: '#222' }}>Time [Hours]</Txt>
      <Txt x={398} y={316} style={{ fontSize: 10, color: '#222' }}>Time [Hours]</Txt>
      <Txt x={406} y={392} style={{ fontSize: 10, color: '#222' }}>Time [Hours]</Txt>
    </div>
  );
}
